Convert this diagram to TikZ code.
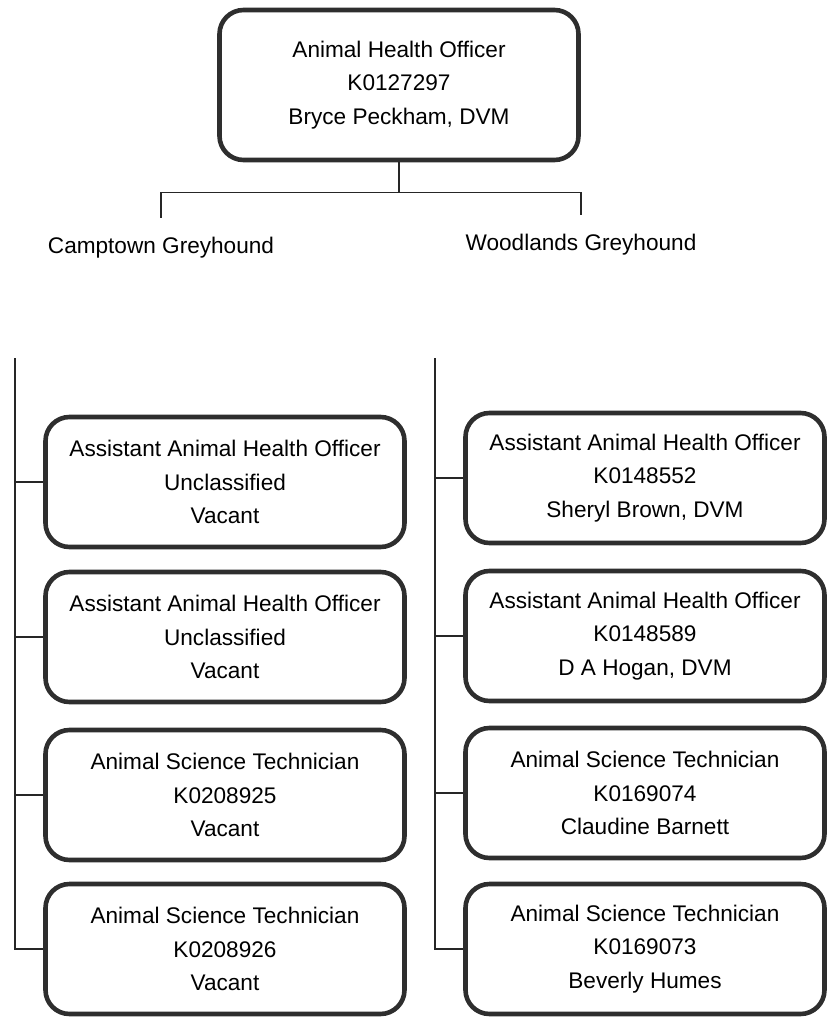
\documentclass[tikz,border=0pt]{standalone}
\usepackage{fontspec}
\setmainfont{Liberation Sans}
\begin{document}
\begin{tikzpicture}[x=1pt,y=-1pt,
  box/.style={draw=black!82, line width=4.6pt, rounded corners=24pt, fill=white,
    minimum width=359pt, minimum height=130pt, align=center,
    font=\fontsize{22.6}{33.5}\selectfont, inner sep=0pt},
  lbl/.style={font=\fontsize{22.6}{27}\selectfont, inner sep=0pt},
  conn/.style={draw=black!85, line width=1.4pt}]
\useasboundingbox (0,0) rectangle (835,1018);
\node[box, minimum height=150pt] (top) at (399,85)
  {Animal Health Officer\\K0127297\\Bryce Peckham, DVM};
\node[lbl] (camp) at (161,248) {Camptown Greyhound};
\node[lbl] (wood) at (581,245) {Woodlands Greyhound};
\draw[conn] (top.south) -- ++(0,30) coordinate (j);
\draw[conn] (j) -| ([yshift=19pt]camp.north);
\draw[conn] (j) -| ([yshift=19pt]wood.north);
% left column
\node[box] (l1) at (225,482) {Assistant Animal Health Officer\\Unclassified\\Vacant};
\node[box] (l2) at (225,637) {Assistant Animal Health Officer\\Unclassified\\Vacant};
\node[box] (l3) at (225,795) {Animal Science Technician\\K0208925\\Vacant};
\node[box] (l4) at (225,949) {Animal Science Technician\\K0208926\\Vacant};
% right column
\node[box] (r1) at (645,478) {Assistant Animal Health Officer\\K0148552\\Sheryl Brown, DVM};
\node[box] (r2) at (645,636) {Assistant Animal Health Officer\\K0148589\\D A Hogan, DVM};
\node[box] (r3) at (645,793) {Animal Science Technician\\K0169074\\Claudine Barnett};
\node[box] (r4) at (645,949) {Animal Science Technician\\K0169073\\Beverly Humes};
\coordinate (lt) at (15,358);
\coordinate (rt) at (435,358);
\draw[conn] (lt) |- (l4.west);
\foreach \n in {l1,l2,l3} \draw[conn] (lt |- \n.west) -- (\n.west);
\draw[conn] (rt) |- (r4.west);
\foreach \n in {r1,r2,r3} \draw[conn] (rt |- \n.west) -- (\n.west);
\end{tikzpicture}
\end{document}
